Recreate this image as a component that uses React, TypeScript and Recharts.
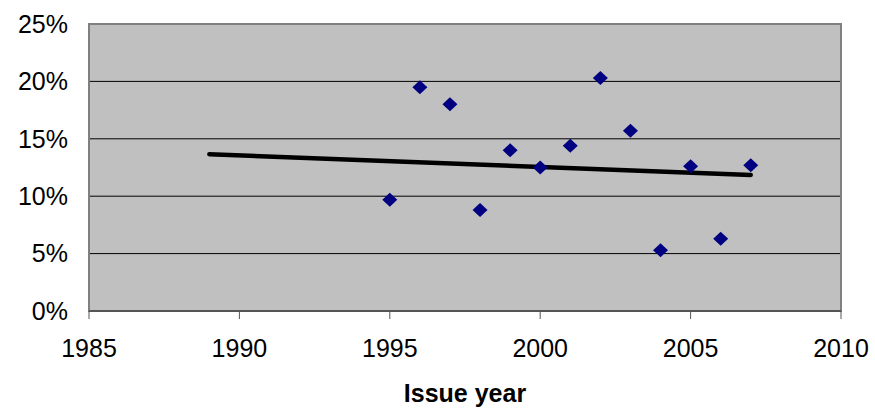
import {
  ScatterChart,
  Scatter,
  XAxis,
  YAxis,
  CartesianGrid,
  ReferenceArea,
} from "recharts";

// issue years and returns (%)
const years = [1995, 1996, 1997, 1998, 1999, 2000, 2001, 2002, 2003, 2004, 2005, 2006, 2007];
const returns = [9.7, 19.5, 18.0, 8.8, 14.0, 12.5, 14.4, 20.3, 15.7, 5.3, 12.6, 6.3, 12.7];

// trend line ends
const trendYears = [1989, 2007];
const trendValues = [13.65, 11.85];

const xTicks = [1985, 1990, 1995, 2000, 2005, 2010];
const yTicks = [0, 5, 10, 15, 20, 25];

const points = years.map((x, i) => ({ x, y: returns[i] }));
const trend = trendYears.map((x, i) => ({ x, y: trendValues[i] }));

const FONT = "'Liberation Sans', Arial, sans-serif";

function Diamond(props: any) {
  const { cx, cy } = props;
  if (cx == null || cy == null) return null;
  const rx = 7.5;
  const ry = 7;
  return (
    <polygon
      points={`${cx},${cy - ry} ${cx + rx},${cy} ${cx},${cy + ry} ${cx - rx},${cy}`}
      fill="#000080"
    />
  );
}

export default function App() {
  return (
    <div style={{ position: "absolute", left: 0, top: 0, width: 875, height: 408, background: "#fff" }}>
      <ScatterChart width={875} height={408} margin={{ top: 24, right: 34, left: 0, bottom: 0 }}>
        <CartesianGrid vertical={false} fill="#C0C0C0" stroke="#000" strokeWidth={1} />
        <XAxis
          type="number"
          dataKey="x"
          domain={[1985, 2010]}
          ticks={xTicks}
          height={97}
          tickSize={8}
          tickMargin={20}
          tick={{ fontSize: 25, fill: "#000", fontFamily: FONT }}
          tickLine={{ stroke: "#555" }}
          axisLine={{ stroke: "#555", strokeWidth: 2 }}
          label={{
            value: "Issue year",
            position: "insideBottom",
            offset: 6,
            style: { fontSize: 25, fontWeight: "bold", fill: "#000", fontFamily: FONT },
          }}
        />
        <YAxis
          type="number"
          dataKey="y"
          domain={[0, 25]}
          ticks={yTicks}
          width={89}
          tickSize={0}
          tickMargin={21}
          tickLine={false}
          axisLine={false}
          tickFormatter={(v: number) => `${v}%`}
          tick={{ fontSize: 25, fill: "#000", fontFamily: FONT }}
        />
        <ReferenceArea x1={1985} x2={2010} y1={0} y2={25} fill="none" stroke="#808080" strokeWidth={2} />
        <Scatter
          data={trend}
          line={{ stroke: "#000", strokeWidth: 4.5, strokeLinecap: "round" }}
          shape={() => null}
          isAnimationActive={false}
        />
        <Scatter data={points} shape={Diamond} isAnimationActive={false} />
      </ScatterChart>
    </div>
  );
}
